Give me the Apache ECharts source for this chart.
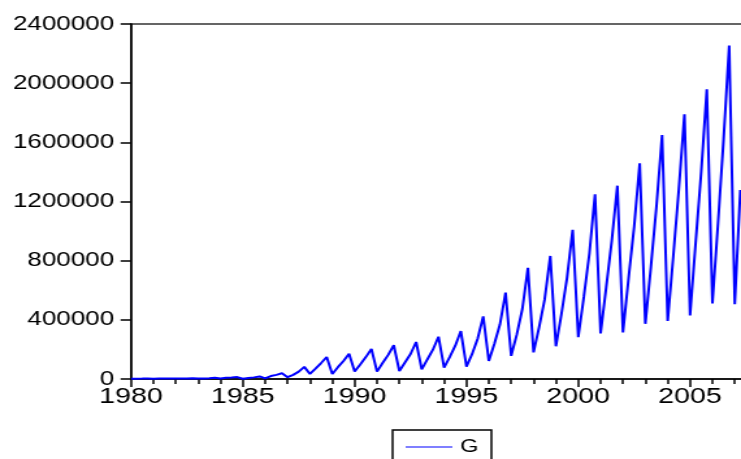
<!DOCTYPE html>
<html>
<head>
<meta charset="utf-8">
<script src="https://cdn.jsdelivr.net/npm/echarts@6/dist/echarts.min.js"></script>
<style>
  html, body { margin: 0; padding: 0; background: #fff; overflow: hidden; width: 741px; height: 459px; }
  /* the chart is laid out on a narrower canvas and widened horizontally */
  #chart { width: 570px; height: 459px; transform: scaleX(1.3); transform-origin: 0 0; }
</style>
</head>
<body>
<div id="chart"></div>
<script>
// Quarterly series G, 1980Q1 onward (Q1, Q2, Q3, Q4 per row)
const startYear = 1980;
const G = [
  2100, 2400, 2600, 3200,          // 1980
  2500, 2800, 3000, 3600,          // 1981
  2900, 3200, 3500, 4300,          // 1982
  3400, 3900, 4600, 8500,          // 1983
  4000, 9000, 10500, 13000,        // 1984
  2000, 7000, 11000, 17500,        // 1985
  4000, 20000, 28000, 38500,       // 1986
  12000, 28000, 50000, 82000,      // 1987
  34000, 70000, 108000, 149000,    // 1988
  34000, 80000, 122000, 170000,    // 1989
  50000, 98000, 148000, 203000,    // 1990
  50000, 108000, 163000, 228000,   // 1991
  54000, 112000, 169000, 250000,   // 1992
  65000, 132000, 198000, 286000,   // 1993
  77000, 148000, 225000, 324000,   // 1994
  84000, 168000, 272000, 423000,   // 1995
  122000, 238000, 370000, 584000,  // 1996
  156000, 300000, 473000, 751000,  // 1997
  180000, 350000, 540000, 832000,  // 1998
  221000, 440000, 685000, 1009000, // 1999
  283000, 555000, 850000, 1248000, // 2000
  308000, 620000, 935000, 1307000, // 2001
  315000, 680000, 1030000, 1458000,// 2002
  373000, 760000, 1170000, 1650000,// 2003
  392000, 830000, 1285000, 1789000,// 2004
  430000, 920000, 1400000, 1958000,// 2005
  510000, 1050000, 1620000, 2254000,// 2006
  506000, 1278000                  // 2007
];
const yearTicks = [1980, 1985, 1990, 1995, 2000, 2005];
const valueTicks = [0, 400000, 800000, 1200000, 1600000, 2000000, 2400000];

// observation dates in fractional years: Q1 sits on the year tick
const points = G.map((v, i) => [startYear + i / 4, v]);

const chart = echarts.init(document.getElementById('chart'), null, { renderer: 'canvas' });
const font = "'Liberation Sans', Arial, Helvetica, sans-serif";

chart.setOption({
  animation: false,
  backgroundColor: '#ffffff',
  grid: {
    left: 100.8, top: 24, width: 516, height: 355,
    containLabel: false, outerBoundsMode: 'none',
    show: true, borderColor: '#333', borderWidth: 1.5, backgroundColor: 'transparent'
  },
  xAxis: {
    type: 'value',
    min: 1980, max: 2010, interval: 5,
    axisLine: { show: true, lineStyle: { color: '#000', width: 1.5 } },
    axisTick: { show: true, length: 8, lineStyle: { color: '#000', width: 1.5 } },
    minorTick: { show: true, splitNumber: 5, length: 5, lineStyle: { color: '#000', width: 1.5 } },
    splitLine: { show: false },
    axisLabel: {
      margin: 7, color: '#000', fontFamily: font, fontSize: 22,
      formatter: v => (yearTicks.indexOf(v) >= 0 ? String(v) : '')
    }
  },
  yAxis: {
    type: 'value',
    min: valueTicks[0], max: valueTicks[valueTicks.length - 1], interval: 400000,
    axisLine: { show: true, lineStyle: { color: '#000', width: 1.5 } },
    axisTick: { show: true, length: 8, lineStyle: { color: '#000', width: 1.5 } },
    splitLine: { show: false },
    axisLabel: {
      margin: 13, color: '#000', fontFamily: font, fontSize: 20,
      formatter: v => String(v)
    }
  },
  legend: {
    data: [{ name: 'G', icon: 'rect' }],
    left: 302, top: 430,
    padding: [8, 10, 10, 10],
    borderColor: '#000', borderWidth: 1.5,
    itemWidth: 36, itemHeight: 1.2, itemGap: 10,
    textStyle: { color: '#000', fontFamily: font, fontSize: 18, padding: [0, 0, 0, 1] }
  },
  series: [{
    name: 'G',
    type: 'line',
    data: points,
    symbol: 'none',
    showSymbol: false,
    clip: true,
    lineStyle: { color: '#0000ff', width: 2 },
    itemStyle: { color: '#0000ff' }
  }]
});
</script>
</body>
</html>
